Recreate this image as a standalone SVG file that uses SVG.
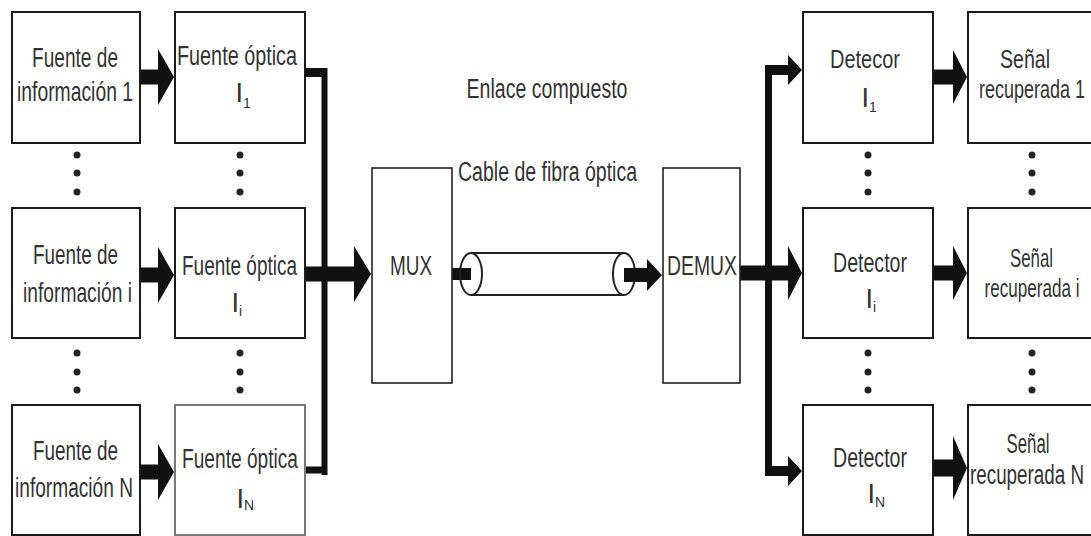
<svg xmlns="http://www.w3.org/2000/svg" width="1091" height="536" viewBox="0 0 1091 536">
<style>
  .box{fill:#fff;stroke:#1a1a1a;stroke-width:2}
  .box-light{fill:#fff;stroke:#777;stroke-width:2}
  .box-thin{fill:#fff;stroke:#222;stroke-width:1.6}
  .t{font-family:"Liberation Sans",Arial,sans-serif;font-size:27px;fill:#333;text-anchor:middle}
  .h{font-family:"Liberation Sans",Arial,sans-serif;font-size:25px;fill:#333;text-anchor:middle}
  .sym{font-family:"Liberation Sans",Arial,sans-serif;font-size:27px;fill:#333}
  .sub{font-size:14px}
  .arrow{fill:#111}
  .bus{stroke:#111;fill:none;stroke-linecap:butt}
  .dot{fill:#222}
  .cable{fill:none;stroke:#222;stroke-width:2}
</style>
<rect width="1091" height="536" fill="#fff"/>

<g id="connectors">
  <!-- info -> fuente optica -->
  <polygon class="arrow" points="140,69.5 158,69.5 158,49 174,77 158,105 158,84.5 140,84.5"/>
  <polygon class="arrow" points="140,267.5 158,267.5 158,247 174,275 158,303 158,282.5 140,282.5"/>
  <polygon class="arrow" points="140,464.5 158,464.5 158,444 174,472 158,500 158,479.5 140,479.5"/>
  <!-- left bus -->
  <path class="bus" stroke-width="6" d="M324.5,68 V475"/>
  <path class="bus" stroke-width="9" d="M305,72.5 H327"/>
  <path class="bus" stroke-width="7" d="M305,470 H327"/>
  <!-- to MUX -->
  <polygon class="arrow" points="305,266.5 354,266.5 354,246 371,274 354,302 354,281.5 305,281.5"/>
  <!-- fiber cable -->
  <g id="fiber-cable">
    <rect x="451" y="268" width="20" height="12" fill="#111"/>
    <line class="cable" x1="471" y1="253" x2="624" y2="253"/>
    <line class="cable" x1="471" y1="295" x2="624" y2="295"/>
    <ellipse class="cable" cx="471" cy="274" rx="11" ry="21"/>
    <ellipse class="cable" cx="624" cy="274" rx="11" ry="21"/>
    <polygon class="arrow" points="624,268 647,268 647,259 662,275 647,291 647,282 624,282"/>
  </g>
  <!-- DEMUX -> detector i -->
  <polygon class="arrow" points="740,265.5 788,265.5 788,246 802,273 788,300 788,280.5 740,280.5"/>
  <!-- right bus -->
  <path class="bus" stroke-width="7" d="M768.5,65.5 V475"/>
  <polygon class="arrow" points="765,65 788,65 788,55 802,70 788,85 788,75 765,75"/>
  <polygon class="arrow" points="765,466 788,466 788,456 802,471 788,486 788,476 765,476"/>
  <!-- detector -> senal -->
  <polygon class="arrow" points="933,69.5 953,69.5 953,50 967,77 953,104 953,84.5 933,84.5"/>
  <polygon class="arrow" points="933,265.5 953,265.5 953,246 967,273 953,300 953,280.5 933,280.5"/>
  <polygon class="arrow" points="933,459.5 953,459.5 953,436 967,468 953,500 953,476.5 933,476.5"/>
</g>

<g id="ellipsis-dots">
  <circle class="dot" cx="77" cy="155" r="3.5"/><circle class="dot" cx="77" cy="173" r="3.5"/><circle class="dot" cx="77" cy="192" r="3.5"/>
  <circle class="dot" cx="77" cy="353" r="3.5"/><circle class="dot" cx="77" cy="372" r="3.5"/><circle class="dot" cx="77" cy="390" r="3.5"/>
  <circle class="dot" cx="240" cy="155" r="3.5"/><circle class="dot" cx="240" cy="173" r="3.5"/><circle class="dot" cx="240" cy="192" r="3.5"/>
  <circle class="dot" cx="240" cy="353" r="3.5"/><circle class="dot" cx="240" cy="372" r="3.5"/><circle class="dot" cx="240" cy="390" r="3.5"/>
  <circle class="dot" cx="868" cy="155" r="3.5"/><circle class="dot" cx="868" cy="173" r="3.5"/><circle class="dot" cx="868" cy="192" r="3.5"/>
  <circle class="dot" cx="868" cy="353" r="3.5"/><circle class="dot" cx="868" cy="372" r="3.5"/><circle class="dot" cx="868" cy="390" r="3.5"/>
  <circle class="dot" cx="1032" cy="155" r="3.5"/><circle class="dot" cx="1032" cy="173" r="3.5"/><circle class="dot" cx="1032" cy="192" r="3.5"/>
  <circle class="dot" cx="1032" cy="353" r="3.5"/><circle class="dot" cx="1032" cy="372" r="3.5"/><circle class="dot" cx="1032" cy="390" r="3.5"/>
</g>

<g id="info-1">
  <rect class="box" x="12" y="12" width="128" height="131"/>
  <text class="t" x="75" y="67" textLength="86" lengthAdjust="spacingAndGlyphs">Fuente de</text>
  <text class="t" x="75" y="101" textLength="116" lengthAdjust="spacingAndGlyphs">información 1</text>
</g>
<g id="info-i">
  <rect class="box" x="12" y="208" width="128" height="130"/>
  <text class="t" x="75.5" y="264" textLength="85" lengthAdjust="spacingAndGlyphs">Fuente de</text>
  <text class="t" x="77.5" y="302" textLength="109" lengthAdjust="spacingAndGlyphs">información i</text>
</g>
<g id="info-N">
  <rect class="box" x="12" y="405" width="128" height="130"/>
  <text class="t" x="75.5" y="460" textLength="85" lengthAdjust="spacingAndGlyphs">Fuente de</text>
  <text class="t" x="74" y="497" textLength="118" lengthAdjust="spacingAndGlyphs">información N</text>
</g>

<g id="fuente-optica-1">
  <rect class="box" x="175" y="12" width="130" height="131"/>
  <text class="t" x="237" y="65" textLength="120" lengthAdjust="spacingAndGlyphs">Fuente óptica</text>
  <text class="sym" x="235.5" y="102">I<tspan class="sub" dy="6">1</tspan></text>
</g>
<g id="fuente-optica-i">
  <rect class="box" x="175" y="208" width="130" height="130"/>
  <text class="t" x="239.5" y="275" textLength="115" lengthAdjust="spacingAndGlyphs">Fuente óptica</text>
  <text class="sym" x="231.5" y="312">I<tspan class="sub" dy="4">i</tspan></text>
</g>
<g id="fuente-optica-N">
  <rect class="box-light" x="175" y="405" width="130" height="130"/>
  <text class="t" x="240" y="468" textLength="116" lengthAdjust="spacingAndGlyphs">Fuente óptica</text>
  <text class="sym" x="236.5" y="508">I<tspan class="sub" dy="2">N</tspan></text>
</g>

<g id="mux">
  <rect class="box-thin" x="372" y="168" width="80" height="215"/>
  <text class="t" x="411" y="275" textLength="42" lengthAdjust="spacingAndGlyphs">MUX</text>
</g>

<g id="enlace-label">
  <text class="t" x="547" y="98" textLength="161" lengthAdjust="spacingAndGlyphs">Enlace compuesto</text>
  <text class="t" x="547.5" y="181" textLength="179" lengthAdjust="spacingAndGlyphs">Cable de fibra óptica</text>
</g>

<g id="demux">
  <rect class="box-thin" x="663" y="168" width="77" height="215"/>
  <text class="t" x="702" y="275" textLength="70" lengthAdjust="spacingAndGlyphs">DEMUX</text>
</g>

<g id="detector-1">
  <rect class="box" x="803" y="12" width="130" height="131"/>
  <text class="h" x="865" y="68" textLength="70" lengthAdjust="spacingAndGlyphs">Detecor</text>
  <text class="sym" x="861.5" y="107">I<tspan class="sub" dy="5">1</tspan></text>
</g>
<g id="detector-i">
  <rect class="box" x="803" y="208" width="130" height="130"/>
  <text class="t" x="870" y="272" textLength="74" lengthAdjust="spacingAndGlyphs">Detector</text>
  <text class="sym" x="865.5" y="308">I<tspan class="sub" dy="4">i</tspan></text>
</g>
<g id="detector-N">
  <rect class="box" x="803" y="405" width="130" height="130"/>
  <text class="t" x="870" y="467" textLength="74" lengthAdjust="spacingAndGlyphs">Detector</text>
  <text class="sym" x="867.5" y="503">I<tspan class="sub" dy="4">N</tspan></text>
</g>

<g id="senal-1">
  <rect class="box" x="968" y="12" width="135" height="131"/>
  <text class="h" x="1025" y="68" textLength="50" lengthAdjust="spacingAndGlyphs">Señal</text>
  <text class="h" x="1032" y="98" textLength="106" lengthAdjust="spacingAndGlyphs">recuperada 1</text>
</g>
<g id="senal-i">
  <rect class="box" x="968" y="208" width="135" height="130"/>
  <text class="h" x="1031.5" y="267" textLength="43" lengthAdjust="spacingAndGlyphs">Señal</text>
  <text class="h" x="1032" y="297" textLength="95" lengthAdjust="spacingAndGlyphs">recuperada i</text>
</g>
<g id="senal-N">
  <rect class="box" x="968" y="405" width="135" height="130"/>
  <text class="t" x="1028" y="453" textLength="43" lengthAdjust="spacingAndGlyphs">Señal</text>
  <text class="t" x="1027" y="484" textLength="114" lengthAdjust="spacingAndGlyphs">recuperada N</text>
</g>
</svg>
